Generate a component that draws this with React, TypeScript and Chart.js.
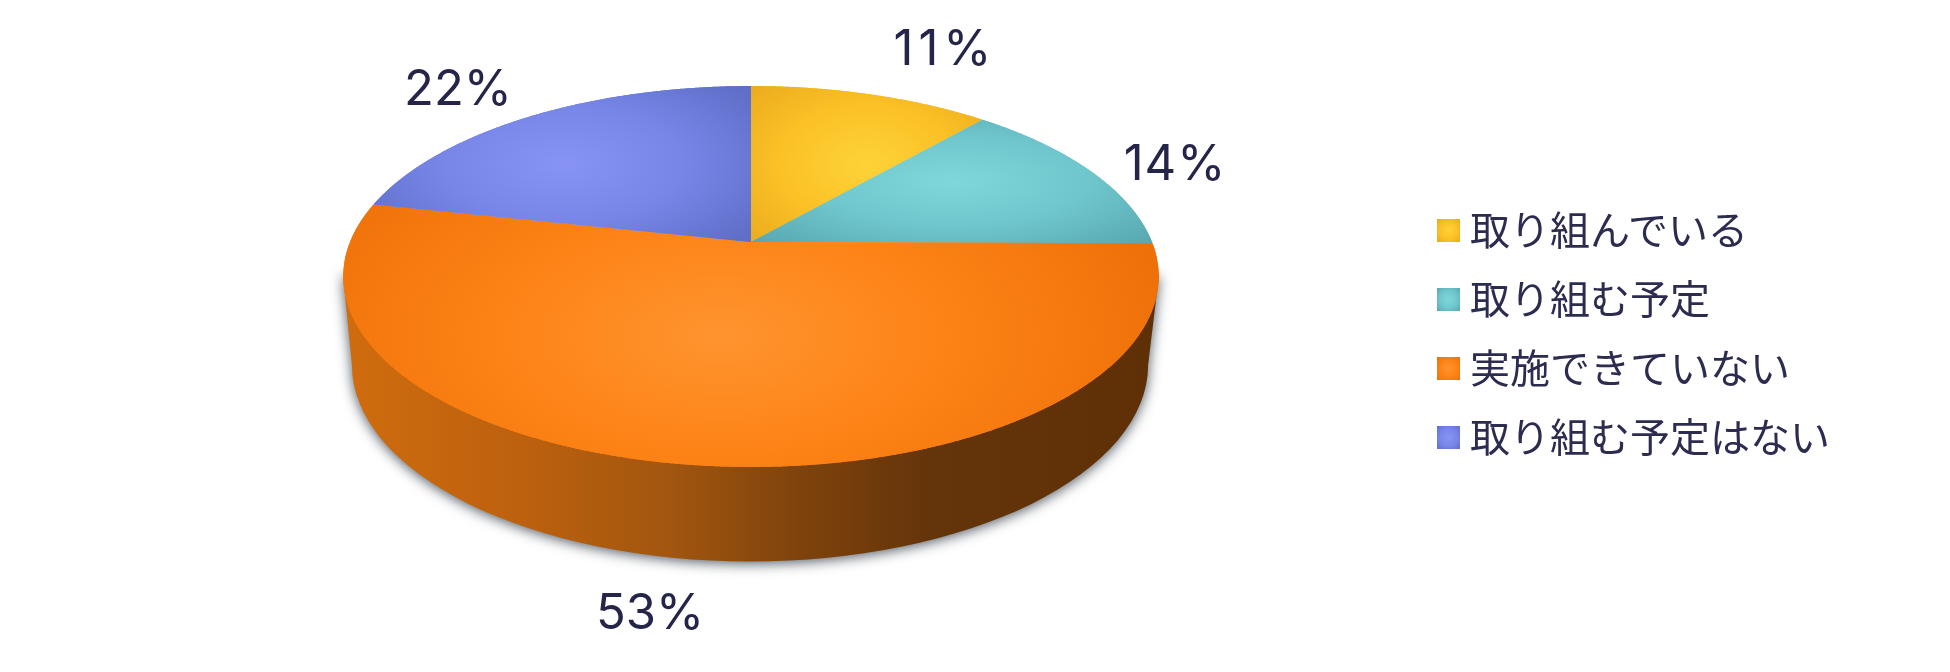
import React, { useEffect, useRef } from "react";
import { Chart, PieController, ArcElement } from "chart.js";

const categories = ["取り組んでいる", "取り組む予定", "実施できていない", "取り組む予定はない"];
const shares = [11.4, 13.7, 53.3, 21.6];
const centerColors = ["#fdd338", "#7fd7db", "#ff942f", "#8794f5"];
const midColors = ["#fbc126", "#6fc6cc", "#fd8215", "#7886e8"];
const edgeColors = ["#e8a91c", "#58a7b0", "#ec7008", "#5f6ec8"];
const labelColor = "#25254a";
const legendColor = "#2c2c50";
const percentLabels = shares.map((v) => `${Math.round(v)}%`);

// Projection of the flat pie onto the tilted disc
const PERSPECTIVE = 0.181;
const STRETCH_X = 401 / 242;
const STRETCH_Y = 184.2 / 242;
const labelPlaces = [
  [945, 50],
  [1175, 165],
  [650, 614],
  [458, 90],
];
const labelTracking = [5, 1, 0, 0];
const glowReach = [
  [1.5, 1.5],
  [1.35, 1.45],
  [1.15, 1.9],
  [1.25, 1.45],
];
const glowShift = [0, 0, -30, 0];

function project(el: any, angle: number) {
  const t = angle + Math.PI / 2;
  const x = Math.sin(t);
  const z = -Math.cos(t);
  const d = 1 - PERSPECTIVE * z;
  return [el.x + (el.outerRadius * STRETCH_X * x) / d, el.y + (el.outerRadius * STRETCH_Y * z) / d];
}

class TiltedArc extends ArcElement {
  static id = "tiltedArc";
  draw(ctx: CanvasRenderingContext2D) {
    const el: any = (this as any).getProps(["x", "y", "startAngle", "endAngle", "outerRadius"]);
    const i: number = (this as any).$context?.index ?? 0;
    const steps = Math.max(2, Math.ceil((el.endAngle - el.startAngle) / 0.004));
    const pts: number[][] = [[el.x, el.y]];
    for (let s = 0; s <= steps; s++) {
      pts.push(project(el, el.startAngle + ((el.endAngle - el.startAngle) * s) / steps));
    }
    const xs = pts.map((p) => p[0]);
    const ys = pts.map((p) => p[1]);
    const minX = Math.min(...xs), maxX = Math.max(...xs), minY = Math.min(...ys), maxY = Math.max(...ys);
    ctx.save();
    ctx.beginPath();
    pts.forEach((p, k) => (k ? ctx.lineTo(p[0], p[1]) : ctx.moveTo(p[0], p[1])));
    ctx.closePath();
    ctx.translate((minX + maxX) / 2 + glowShift[i], (minY + maxY) / 2);
    ctx.scale(((maxX - minX) / 2) * glowReach[i][0], ((maxY - minY) / 2) * glowReach[i][1]);
    const g = ctx.createRadialGradient(0, 0, 0, 0, 0, 1);
    g.addColorStop(0, centerColors[i]);
    g.addColorStop(0.5, midColors[i]);
    g.addColorStop(1, edgeColors[i]);
    ctx.fillStyle = g;
    ctx.fill();
    ctx.fill();
    ctx.restore();
  }
}

class TiltedPie extends PieController {
  static id = "tiltedPie";
  static defaults = { dataElementType: "tiltedArc" };
}

Chart.register(TiltedArc, TiltedPie);

const sidePlugin = {
  id: "discSide",
  beforeDatasetsDraw(chart: any) {
    const { ctx } = chart;
    const a = chart.getDatasetMeta(0).data[0];
    const cx = a.x, cy = a.y, r = a.outerRadius;
    const topCy = cy + r * 0.1364, topA = r * 1.686;
    const lowCx = cx - r * 0.004, lowCy = cy + r * 0.508, lowA = r * 1.645, lowB = r * 0.812;
    ctx.save();
    ctx.beginPath();
    ctx.moveTo(cx + topA, topCy);
    ctx.lineTo(lowCx + lowA, lowCy);
    ctx.ellipse(lowCx, lowCy, lowA, lowB, 0, 0, Math.PI);
    ctx.lineTo(cx - topA, topCy);
    ctx.closePath();
    const g = ctx.createLinearGradient(cx - topA, 0, cx + topA, 0);
    g.addColorStop(0, "#cf6c0e");
    g.addColorStop(0.2, "#bf620e");
    g.addColorStop(0.4, "#a2560f");
    g.addColorStop(0.55, "#80440c");
    g.addColorStop(0.72, "#64340a");
    g.addColorStop(1, "#5f3006");
    ctx.shadowColor = "rgba(60,70,80,0.9)";
    ctx.shadowBlur = 13;
    ctx.shadowOffsetY = 2;
    ctx.fillStyle = g;
    ctx.fill();
    ctx.restore();
  },
};

const percentPlugin = {
  id: "percentLabels",
  afterDraw(chart: any) {
    const { ctx } = chart;
    ctx.save();
    ctx.font = "400 49px Inter";
    ctx.fillStyle = labelColor;
    ctx.textAlign = "center";
    ctx.textBaseline = "middle";
    percentLabels.forEach((t, i) => {
      (ctx as any).letterSpacing = `${labelTracking[i]}px`;
      ctx.fillText(t, labelPlaces[i][0], labelPlaces[i][1]);
    });
    ctx.restore();
  },
};

export default function App() {
  const ref = useRef<HTMLCanvasElement>(null);
  useEffect(() => {
    const chart = new Chart(ref.current!, {
      type: "tiltedPie" as any,
      data: {
        labels: categories,
        datasets: [{ data: shares, backgroundColor: midColors, borderWidth: 0, clip: false } as any],
      },
      options: {
        responsive: false,
        animation: false,
        layout: { padding: { left: 0, top: 0, right: 448, bottom: 188 } },
        plugins: { legend: { display: false }, tooltip: { enabled: false } },
      },
      plugins: [sidePlugin, percentPlugin],
    } as any);
    return () => chart.destroy();
  }, []);
  return (
    <div style={{ position: "fixed", left: 0, top: 0, width: 1950, height: 672, background: "#fff", overflow: "hidden" }}>
      <canvas ref={ref} width={1950} height={672} style={{ display: "block" }} />
      {categories.map((c, i) => (
        <div
          key={c}
          style={{
            position: "absolute",
            left: 1437,
            top: 230 + i * 69 - 32,
            height: 60,
            display: "flex",
            alignItems: "center",
            whiteSpace: "nowrap",
            font: '400 40px "Noto Sans CJK JP"',
            color: legendColor,
          }}
        >
          <span
            style={{
              display: "inline-block",
              width: 23,
              height: 23,
              marginRight: 10,
              position: "relative",
              top: 2,
              background: `radial-gradient(circle, ${centerColors[i]} 0%, ${midColors[i]} 55%, ${edgeColors[i]} 100%)`,
            }}
          />
          {c}
        </div>
      ))}
    </div>
  );
}
